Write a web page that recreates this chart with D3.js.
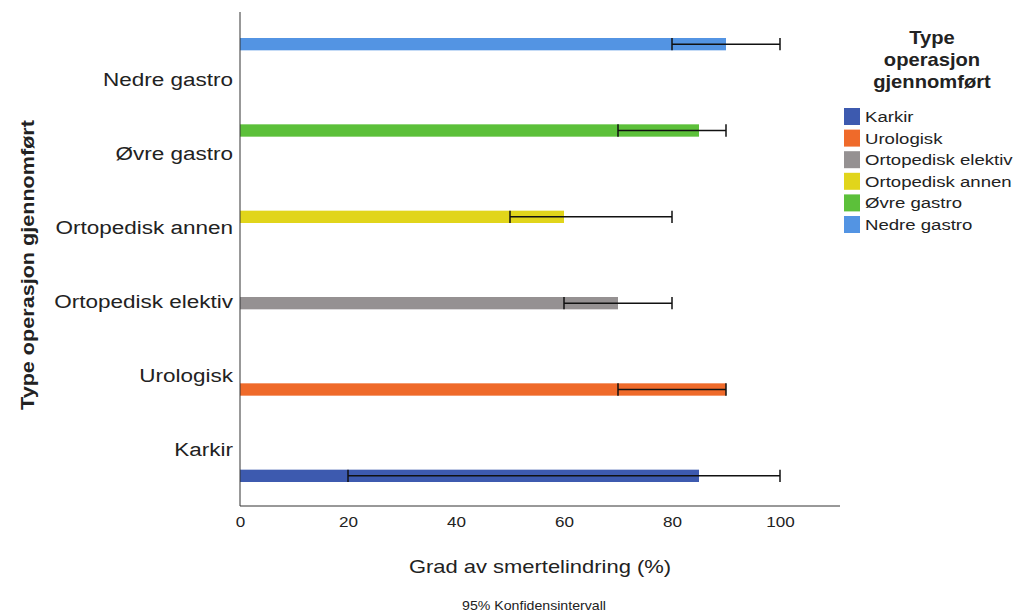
<!DOCTYPE html>
<html>
<head>
<meta charset="utf-8">
<script src="https://cdn.jsdelivr.net/npm/d3@7"></script>
<style>
  body { margin: 0; background: #fff; }
  text { font-family: "Liberation Sans", Arial, sans-serif; fill: #222; }
</style>
</head>
<body>
<svg id="chart" width="1015" height="616"></svg>
<script>
// data
const categories = ["Karkir", "Urologisk", "Ortopedisk elektiv", "Ortopedisk annen", "Øvre gastro", "Nedre gastro"];
const means = [85, 90, 70, 60, 85, 90];
const ciLow = [20, 70, 60, 50, 70, 80];
const ciHigh = [100, 90, 80, 80, 90, 100];
const colors = ["#3d5aaf", "#ef6a2a", "#959192", "#e1d51b", "#5cc03a", "#5394e3"];
const xTicks = [0, 20, 40, 60, 80, 100];

const svg = d3.select("#chart");

// text drawn a bit wider, like the original export
function label(parent, x, y, txt, opts) {
    const o = Object.assign({ size: 17, sx: 1.2, anchor: "start", weight: "normal", rotate: 0 }, opts);
    parent.append("text")
        .attr("transform", `translate(${x},${y}) rotate(${o.rotate}) scale(${o.sx},1)`)
        .attr("text-anchor", o.anchor)
        .style("font-size", o.size + "px")
        .style("font-weight", o.weight)
        .text(txt);
}

// x scale: 0 -> 240px, 100 -> 780px
const x = d3.scaleLinear().domain([0, 100]).range([240, 780]);

// outer band per category (Karkir at bottom)
const y = d3.scaleBand()
    .domain(categories.slice().reverse())
    .range([38, 482])
    .padding(0);

// inner slot per cluster member
const slot = d3.scaleBand()
    .domain(categories.slice().reverse())
    .range([0, y.bandwidth()])
    .padding(0);

const data = categories.map((c, i) => ({
    cat: c, mean: means[i], lo: ciLow[i], hi: ciHigh[i], color: colors[i]
}));

const barY = d => y(d.cat) + slot(d.cat);
const bh = slot.bandwidth();

// bars
svg.append("g").selectAll("rect")
    .data(data)
    .enter()
    .append("rect")
    .attr("x", x(0))
    .attr("y", d => barY(d))
    .attr("width", d => x(d.mean) - x(0))
    .attr("height", bh)
    .attr("fill", d => d.color);

// error bars
const eg = svg.append("g").attr("stroke", "#111").attr("stroke-width", 1.5);
data.forEach(d => {
    const cy = barY(d) + bh / 2;
    eg.append("line").attr("x1", x(d.lo)).attr("x2", x(d.hi)).attr("y1", cy).attr("y2", cy);
    eg.append("line").attr("x1", x(d.lo)).attr("x2", x(d.lo)).attr("y1", cy - bh / 2).attr("y2", cy + bh / 2);
    eg.append("line").attr("x1", x(d.hi)).attr("x2", x(d.hi)).attr("y1", cy - bh / 2).attr("y2", cy + bh / 2);
});

// axis lines
svg.append("line").attr("x1", 240).attr("x2", 240).attr("y1", 12).attr("y2", 506)
    .attr("stroke", "#333").attr("stroke-width", 1);
svg.append("line").attr("x1", 240).attr("x2", 840).attr("y1", 506).attr("y2", 506)
    .attr("stroke", "#333").attr("stroke-width", 1);

// x tick labels
const xaxis = d3.axisBottom(x).tickValues(xTicks).tickSize(0).tickPadding(11);
const xg = svg.append("g").attr("transform", "translate(0,506)").call(xaxis);
xg.select(".domain").remove();
xg.selectAll("text")
    .style("font-family", "'Liberation Sans', Arial, sans-serif")
    .style("font-size", "14px")
    .attr("fill", "#222")
    .attr("transform", "scale(1.22,1)");

// category labels
const cg = svg.append("g");
categories.forEach(c => {
    label(cg, 233, y(c) + y.bandwidth() / 2 + 11, c, { size: 18, sx: 1.25, anchor: "end" });
});

// axis titles
label(svg, 34, 265, "Type operasjon gjennomført", { size: 18, sx: 1.2, anchor: "middle", weight: "bold", rotate: -90 });
label(svg, 540, 573, "Grad av smertelindring (%)", { size: 18, sx: 1.22, anchor: "middle" });
label(svg, 534, 610, "95% Konfidensintervall", { size: 13, sx: 1.09, anchor: "middle" });

// legend
const lg = svg.append("g");
["Type", "operasjon", "gjennomført"].forEach((t, i) => {
    label(lg, 932, 44 + i * 22, t, { size: 18, sx: 1.12, anchor: "middle", weight: "bold" });
});
categories.forEach((c, i) => {
    const ly = 108 + i * 21.6;
    lg.append("rect").attr("x", 844).attr("y", ly).attr("width", 16).attr("height", 17).attr("fill", colors[i]);
    label(lg, 865, ly + 14, c, { size: 15, sx: 1.24 });
});
</script>
</body>
</html>
